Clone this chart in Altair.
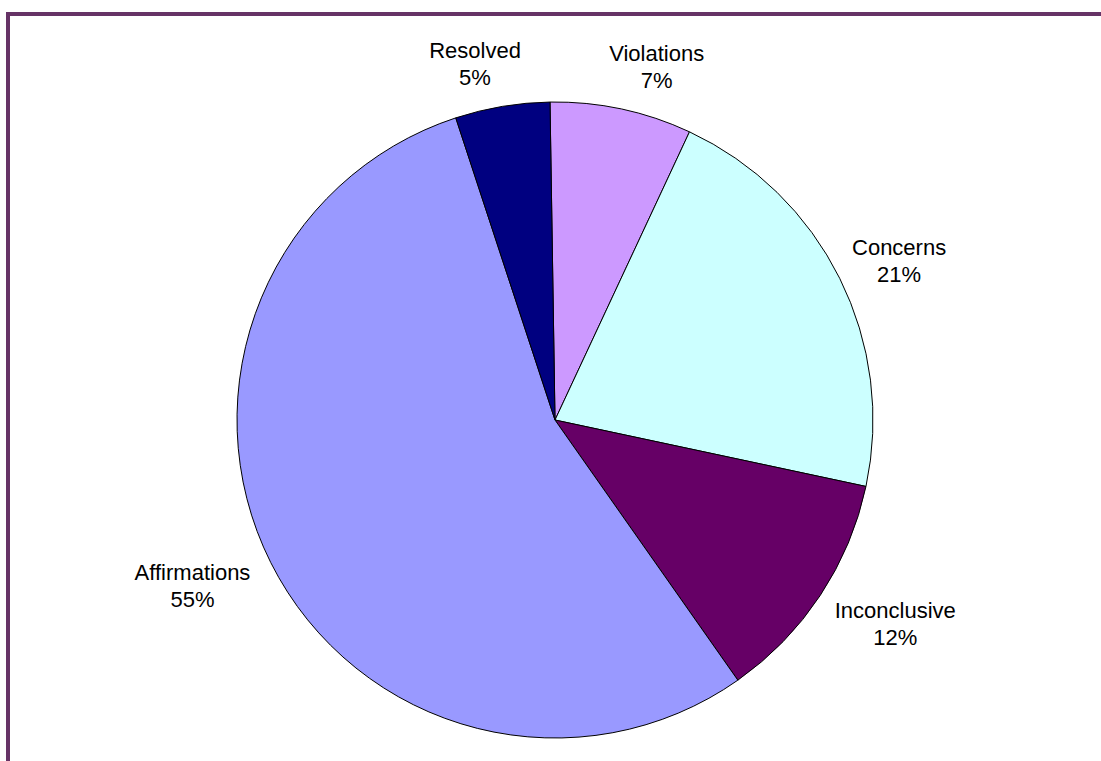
import altair as alt
import pandas as pd

# Slices listed clockwise starting from 12 o'clock
categories = ["Violations", "Concerns", "Inconclusive", "Affirmations", "Resolved"]
values = [7.2, 21.4, 11.9, 54.7, 4.8]
shown_pct = [7, 21, 12, 55, 5]
colors = ["#CC99FF", "#CCFFFF", "#660066", "#9999FF", "#000080"]

df = pd.DataFrame({
    "cat": categories,
    "value": values,
    "order": list(range(len(categories))),
    "label": [f"{c}\n{p}%" for c, p in zip(categories, shown_pct)],
})

CX, CY, R = 555, 420, 318
START = -0.0157
TWO_PI = 6.283185307179586

base = alt.Chart(df)

arcs = base.mark_arc(stroke="black", strokeWidth=1, outerRadius=R).encode(
    theta=alt.Theta("value:Q", stack=True,
                    scale=alt.Scale(range=[START, START + TWO_PI])),
    order=alt.Order("order:Q"),
    color=alt.Color("cat:N", scale=alt.Scale(domain=categories, range=colors), legend=None),
    x=alt.value(CX),
    y=alt.value(CY),
)

labels = base.transform_joinaggregate(
    total="sum(value)"
).transform_window(
    cum="sum(value)", sort=[alt.SortField("order")], frame=[None, 0]
).transform_calculate(
    mid=f"(datum.cum - datum.value/2)/datum.total*{TWO_PI} + ({START})"
).transform_calculate(
    lx=f"{CX} + 342*sin(datum.mid) + (sin(datum.mid) >= 0 ? 1 : -1)*length(datum.cat)*5*(0.5 + 0.5*abs(sin(datum.mid)))",
    ly=f"{CY} - 342*cos(datum.mid) - 0.8*27*cos(datum.mid) - 10",
).mark_text(
    font="Liberation Sans", fontSize=22, lineHeight=27, lineBreak="\n",
    align="center", baseline="middle", color="black"
).encode(
    x=alt.X("lx:Q", scale=None, axis=None),
    y=alt.Y("ly:Q", scale=None, axis=None),
    text="label:N",
)

frame_df = pd.DataFrame({"k": [0]})
top_rule = alt.Chart(frame_df).mark_rule(color="#663366", strokeWidth=4).encode(
    x=alt.value(6), x2=alt.value(1101), y=alt.value(14)
)
left_rule = alt.Chart(frame_df).mark_rule(color="#663366", strokeWidth=4).encode(
    x=alt.value(8), y=alt.value(12), y2=alt.value(761)
)

chart = alt.layer(arcs, labels, top_rule, left_rule).properties(
    width=1101, height=761, padding=0,
    autosize=alt.AutoSizeParams(type="none"),
    background="white",
).configure_view(stroke=None)

chart.save("out.html", embed_options={"renderer": "svg", "actions": False})
